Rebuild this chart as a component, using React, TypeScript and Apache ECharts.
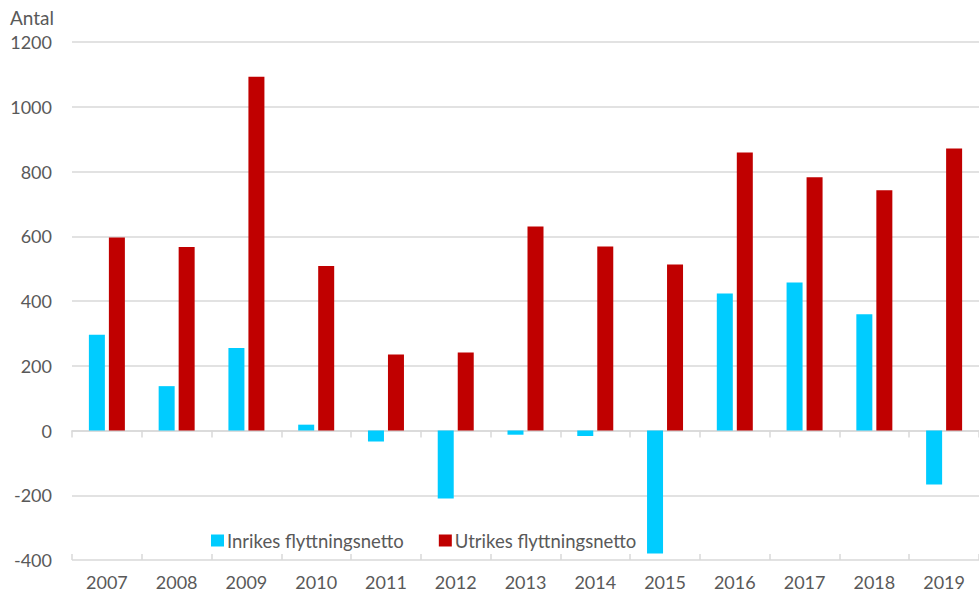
import React, { useEffect, useRef } from "react";
import * as echarts from "echarts";

const years = ["2007", "2008", "2009", "2010", "2011", "2012", "2013", "2014", "2015", "2016", "2017", "2018", "2019"];
const inrikes = [296, 137, 255, 18, -34, -210, -13, -17, -380, 423, 457, 359, -167];
const utrikes = [596, 567, 1093, 508, 235, 241, 630, 568, 513, 859, 782, 742, 871];
const seriesNames = ["Inrikes flyttningsnetto", "Utrikes flyttningsnetto"];
const yAxisLabel = "Antal";

const FONT = "Lato, 'Open Sans', sans-serif";
const GRAY = "#595959";
const GRID = "#d9d9d9";

export default function App() {
  const ref = useRef<HTMLDivElement>(null);
  useEffect(() => {
    if (!ref.current) return;
    const chart = echarts.init(ref.current, undefined, { renderer: "svg" });
    const base = { type: "category", data: years, boundaryGap: true };
    chart.setOption({
      animation: false,
      backgroundColor: "#ffffff",
      textStyle: { fontFamily: FONT },
      grid: { left: 72, right: -7, top: 42, bottom: 32, containLabel: false },
      legend: {
        left: 206,
        top: 526,
        icon: "rect",
        itemWidth: 13,
        itemHeight: 12,
        itemGap: 35,
        textStyle: { fontFamily: FONT, fontSize: 18.5, color: GRAY, padding: [0, 0, 0, -2] },
        data: seriesNames,
      },
      graphic: [
        {
          type: "text",
          left: 10,
          top: 8,
          style: { text: yAxisLabel, fontFamily: FONT, fontSize: 19, fill: GRAY },
        },
      ],
      xAxis: [
        {
          ...base,
          position: "bottom",
          axisLine: { show: false, onZero: false },
          axisTick: { show: false },
          axisLabel: { fontFamily: FONT, fontSize: 18, color: GRAY, margin: 13 },
          splitLine: { show: false },
        },
        {
          ...base,
          position: "bottom",
          axisLine: { show: true, onZero: true, lineStyle: { color: GRID, width: 1.5 } },
          axisTick: { show: true, length: 7, lineStyle: { color: GRID, width: 1.5 } },
          axisLabel: { show: false },
          splitLine: { show: false },
        },
        {
          ...base,
          position: "bottom",
          axisLine: { show: false, onZero: true },
          axisTick: { show: true, inside: true, length: 6, lineStyle: { color: GRID, width: 1.5 } },
          axisLabel: { show: false },
          splitLine: { show: false },
        },
      ],
      yAxis: {
        type: "value",
        min: -400,
        max: 1200,
        interval: 200,
        axisLine: { show: false },
        axisTick: { show: false },
        axisLabel: {
          fontFamily: FONT,
          fontSize: 18,
          color: GRAY,
          margin: 20,
          formatter: (v: number) => String(v),
        },
        splitLine: { lineStyle: { color: GRID, width: 1.5 } },
      },
      series: [
        {
          name: seriesNames[0],
          type: "bar",
          xAxisIndex: 0,
          data: inrikes,
          barWidth: 16,
          barGap: "25%",
          itemStyle: { color: "#00CCFF" },
          z: 3,
        },
        {
          name: seriesNames[1],
          type: "bar",
          xAxisIndex: 0,
          data: utrikes,
          barWidth: 16,
          barGap: "25%",
          itemStyle: { color: "#C00000" },
          z: 3,
        },
      ],
    });
    return () => chart.dispose();
  }, []);
  return (
    <div
      ref={ref}
      style={{ position: "fixed", left: 0, top: 0, width: 979, height: 592, background: "#fff" }}
    />
  );
}
